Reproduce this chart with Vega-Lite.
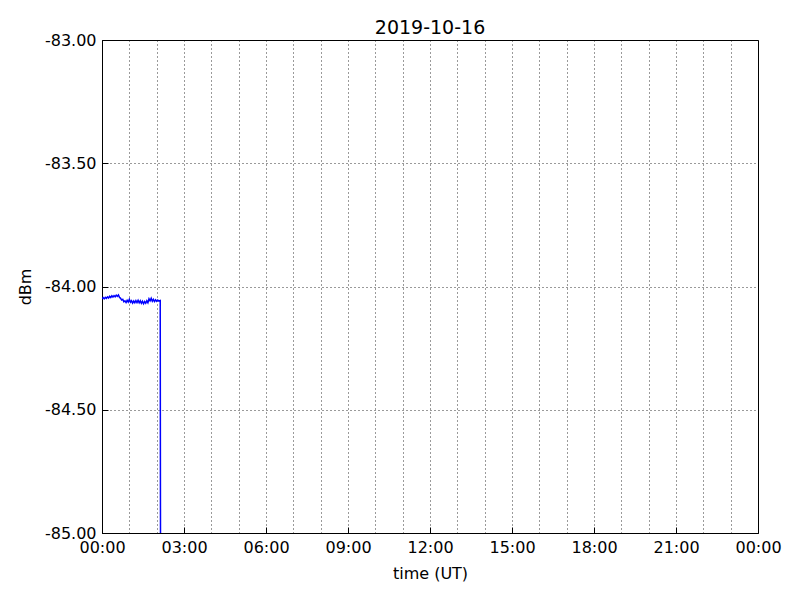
{
  "$schema": "https://vega.github.io/schema/vega-lite/v6.json",
  "width": 656,
  "height": 493,
  "autosize": {"type": "none"},
  "padding": {"left": 102, "top": 40, "right": 42, "bottom": 67},
  "background": "white",
  "title": {"text": "2019-10-16", "font": "DejaVu Sans", "fontSize": 19, "fontWeight": "normal", "color": "black", "offset": -6},
  "config": {
    "view": {"stroke": "black", "strokeWidth": 1},
    "axis": {
      "labelFont": "DejaVu Sans", "labelFontSize": 16, "labelColor": "black",
      "titleFont": "DejaVu Sans", "titleFontSize": 16, "titleFontWeight": "normal", "titleColor": "black",
      "domain": false, "ticks": true, "tickSize": -6, "tickColor": "black", "tickWidth": 1, "labelFlush": false,
      "grid": true, "gridColor": "black", "gridDash": [1, 3], "gridWidth": 0.8, "gridOpacity": 1
    }
  },
  "data": {"values": [
    {"hour": 0.00, "dbm": -84.050},
    {"hour": 0.04, "dbm": -84.045},
    {"hour": 0.08, "dbm": -84.050},
    {"hour": 0.12, "dbm": -84.044},
    {"hour": 0.16, "dbm": -84.048},
    {"hour": 0.20, "dbm": -84.042},
    {"hour": 0.24, "dbm": -84.047},
    {"hour": 0.28, "dbm": -84.040},
    {"hour": 0.32, "dbm": -84.045},
    {"hour": 0.36, "dbm": -84.038},
    {"hour": 0.40, "dbm": -84.043},
    {"hour": 0.44, "dbm": -84.037},
    {"hour": 0.48, "dbm": -84.042},
    {"hour": 0.52, "dbm": -84.035},
    {"hour": 0.56, "dbm": -84.040},
    {"hour": 0.60, "dbm": -84.034},
    {"hour": 0.64, "dbm": -84.044},
    {"hour": 0.68, "dbm": -84.048},
    {"hour": 0.72, "dbm": -84.055},
    {"hour": 0.76, "dbm": -84.052},
    {"hour": 0.80, "dbm": -84.062},
    {"hour": 0.84, "dbm": -84.058},
    {"hour": 0.88, "dbm": -84.065},
    {"hour": 0.92, "dbm": -84.056},
    {"hour": 0.96, "dbm": -84.063},
    {"hour": 1.00, "dbm": -84.052},
    {"hour": 1.04, "dbm": -84.064},
    {"hour": 1.08, "dbm": -84.058},
    {"hour": 1.12, "dbm": -84.067},
    {"hour": 1.16, "dbm": -84.059},
    {"hour": 1.20, "dbm": -84.066},
    {"hour": 1.24, "dbm": -84.057},
    {"hour": 1.28, "dbm": -84.065},
    {"hour": 1.32, "dbm": -84.056},
    {"hour": 1.36, "dbm": -84.066},
    {"hour": 1.40, "dbm": -84.058},
    {"hour": 1.44, "dbm": -84.068},
    {"hour": 1.48, "dbm": -84.060},
    {"hour": 1.52, "dbm": -84.070},
    {"hour": 1.56, "dbm": -84.061},
    {"hour": 1.60, "dbm": -84.068},
    {"hour": 1.64, "dbm": -84.058},
    {"hour": 1.68, "dbm": -84.066},
    {"hour": 1.72, "dbm": -84.050},
    {"hour": 1.76, "dbm": -84.058},
    {"hour": 1.80, "dbm": -84.048},
    {"hour": 1.84, "dbm": -84.060},
    {"hour": 1.88, "dbm": -84.052},
    {"hour": 1.92, "dbm": -84.061},
    {"hour": 1.96, "dbm": -84.054},
    {"hour": 2.00, "dbm": -84.060},
    {"hour": 2.04, "dbm": -84.055},
    {"hour": 2.08, "dbm": -84.059},
    {"hour": 2.13, "dbm": -84.057},
    {"hour": 2.14, "dbm": -85.000}
  ]},
  "mark": {"type": "line", "color": "blue", "strokeWidth": 1.5, "clip": true},
  "encoding": {
    "x": {
      "field": "hour", "type": "quantitative",
      "scale": {"domain": [0, 24], "nice": false, "zero": false},
      "axis": {
        "title": "time (UT)", "titlePadding": 10, "labelPadding": 12, "labelAlign": "center",
        "values": [0,1,2,3,4,5,6,7,8,9,10,11,12,13,14,15,16,17,18,19,20,21,22,23,24],
        "tickOpacity": {"condition": {"test": "datum.value % 3 == 0", "value": 1}, "value": 0},
        "labelExpr": "datum.value % 3 == 0 ? ((datum.value % 24) < 10 ? '0' : '') + (datum.value % 24) + ':00' : ''"
      }
    },
    "y": {
      "field": "dbm", "type": "quantitative",
      "scale": {"domain": [-85, -83], "nice": false, "zero": false},
      "axis": {
        "title": "dBm", "titlePadding": 11, "labelPadding": 12,
        "values": [-85, -84.5, -84, -83.5, -83],
        "labelExpr": "replace(format(datum.value, '.2f'), '\u2212', '-')"
      }
    }
  }
}
